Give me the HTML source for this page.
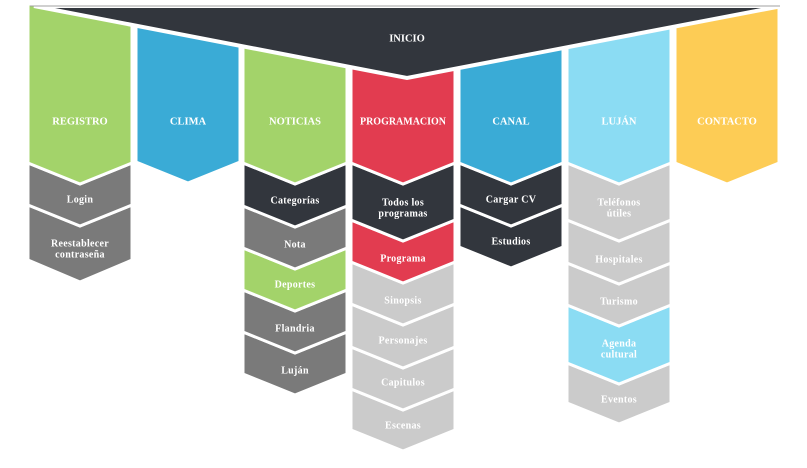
<!DOCTYPE html>
<html><head><meta charset="utf-8"><style>
html,body{margin:0;padding:0;background:#fff;}
svg text{font-family:"Liberation Serif","DejaVu Serif",serif;font-weight:bold;fill:#fff;text-anchor:middle;dominant-baseline:middle;}
.t{font-size:10.5px;letter-spacing:0}
.s{font-size:10px;letter-spacing:0.3px}
</style></head><body>
<svg width="807" height="463" viewBox="0 0 807 463" xmlns="http://www.w3.org/2000/svg">
<g stroke="#fff" stroke-width="3" stroke-linejoin="miter">
<polygon fill="#7a7a7a" points="28,205 80,226 132,205 132,260 80,282 28,260"/>
<polygon fill="#7a7a7a" points="28,163 80,184 132,163 132,205 80,226 28,205"/>
<polygon fill="#a3d36a" points="28,4 132,4 132,163 80,184 28,163"/>
<polygon fill="#3aabd6" points="136,4 240,4 240,162 188,183 136,162"/>
<polygon fill="#7a7a7a" points="243,332 295,353 347,332 347,374 295,395 243,374"/>
<polygon fill="#7a7a7a" points="243,290 295,311 347,290 347,332 295,353 243,332"/>
<polygon fill="#a3d36a" points="243,248 295,269 347,248 347,290 295,311 243,290"/>
<polygon fill="#7a7a7a" points="243,206 295,227 347,206 347,248 295,269 243,248"/>
<polygon fill="#32363d" points="243,163 295,184 347,163 347,206 295,227 243,206"/>
<polygon fill="#a3d36a" points="243,4 347,4 347,163 295,184 243,163"/>
<polygon fill="#cbcbcb" points="351,389 403,410 455,389 455,430 403,451 351,430"/>
<polygon fill="#cbcbcb" points="351,347 403,368 455,347 455,389 403,410 351,389"/>
<polygon fill="#cbcbcb" points="351,304 403,325 455,304 455,347 403,368 351,347"/>
<polygon fill="#cbcbcb" points="351,262 403,283 455,262 455,304 403,325 351,304"/>
<polygon fill="#e23c50" points="351,220 403,241 455,220 455,262 403,283 351,262"/>
<polygon fill="#32363d" points="351,163 403,184 455,163 455,220 403,241 351,220"/>
<polygon fill="#e23c50" points="351,4 455,4 455,163 403,184 351,163"/>
<polygon fill="#32363d" points="459,205 511,226 563,205 563,247 511,268 459,247"/>
<polygon fill="#32363d" points="459,163 511,184 563,163 563,205 511,226 459,205"/>
<polygon fill="#3aabd6" points="459,4 563,4 563,163 511,184 459,163"/>
<polygon fill="#cbcbcb" points="567,363 619,384 671,363 671,403 619,424 567,403"/>
<polygon fill="#8bdcf3" points="567,305 619,326 671,305 671,363 619,384 567,363"/>
<polygon fill="#cbcbcb" points="567,263 619,284 671,263 671,305 619,326 567,305"/>
<polygon fill="#cbcbcb" points="567,220 619,241 671,220 671,263 619,284 567,263"/>
<polygon fill="#cbcbcb" points="567,163 619,184 671,163 671,220 619,241 567,220"/>
<polygon fill="#8bdcf3" points="567,4 671,4 671,163 619,184 567,163"/>
<polygon fill="#fdcc55" points="675,4 779,4 779,163 727,184 675,163"/>
<polygon fill="#32363d" stroke-width="4" points="34,6 782,6 407,78"/>
</g>
<rect x="0" y="0" width="807" height="5" fill="#fff"/>
<line x1="30" y1="6" x2="780" y2="6" stroke="#a0a0a0" stroke-width="1"/>
<text class="t" x="407" y="39">INICIO</text>
<text class="t" x="80" y="122">REGISTRO</text>
<text class="t" x="188" y="122">CLIMA</text>
<text class="t" x="295" y="122">NOTICIAS</text>
<text class="t" x="403" y="122" textLength="86" lengthAdjust="spacingAndGlyphs">PROGRAMACION</text>
<text class="t" x="511" y="122">CANAL</text>
<text class="t" x="619" y="122">LUJÁN</text>
<text class="t" x="727" y="122">CONTACTO</text>
<text class="s" x="80" y="200">Login</text>
<text class="s" x="80" y="244">Reestablecer</text>
<text class="s" x="80" y="255">contraseña</text>
<text class="s" x="295" y="201">Categorías</text>
<text class="s" x="295" y="245">Nota</text>
<text class="s" x="295" y="285">Deportes</text>
<text class="s" x="295" y="329">Flandria</text>
<text class="s" x="295" y="371">Luján</text>
<text class="s" x="403" y="203">Todos los</text>
<text class="s" x="403" y="214">programas</text>
<text class="s" x="403" y="259">Programa</text>
<text class="s" x="403" y="301">Sinopsis</text>
<text class="s" x="403" y="341">Personajes</text>
<text class="s" x="403" y="383">Capitulos</text>
<text class="s" x="403" y="426">Escenas</text>
<text class="s" x="511" y="200">Cargar CV</text>
<text class="s" x="511" y="242">Estudios</text>
<text class="s" x="619" y="203">Teléfonos</text>
<text class="s" x="619" y="214">útiles</text>
<text class="s" x="619" y="260">Hospitales</text>
<text class="s" x="619" y="302">Turismo</text>
<text class="s" x="619" y="344">Agenda</text>
<text class="s" x="619" y="355">cultural</text>
<text class="s" x="619" y="400">Eventos</text>
</svg>
</body></html>
